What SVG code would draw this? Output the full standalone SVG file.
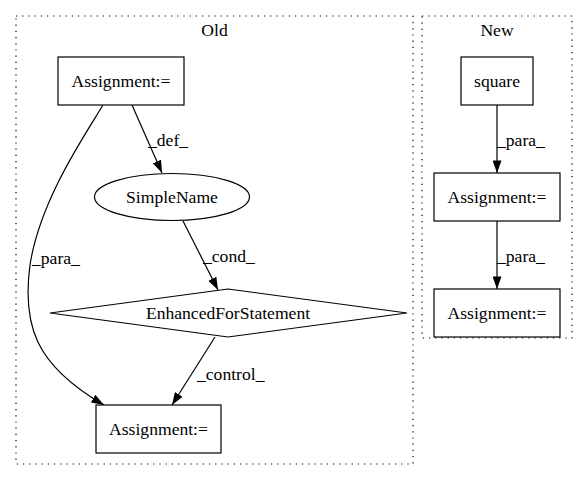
<svg xmlns="http://www.w3.org/2000/svg" width="587" height="480" viewBox="0 0 587 480" font-family="'Liberation Serif', 'Times New Roman', serif">
<defs>
<marker id="arr" viewBox="0 0 12.6 9" refX="12.6" refY="4.5" markerWidth="12.6" markerHeight="9" markerUnits="userSpaceOnUse" orient="auto">
<path d="M0,0 L12.6,4.5 L0,9 Z" fill="#000"/>
</marker>
</defs>
<style>
text{font-family:'Liberation Serif','Times New Roman',serif;font-size:17.6px;fill:#000}
.node{fill:#fff;stroke:#000;stroke-width:1.2}
.cluster{fill:none;stroke:#000;stroke-width:1.2;stroke-dasharray:1.2,5}
.edge{fill:none;stroke:#000;stroke-width:1.2;marker-end:url(#arr)}
.c{text-anchor:middle}
</style>
<rect width="587" height="480" fill="#fff"/>
<g id="cluster_old">
<rect class="cluster" x="16" y="16" width="397" height="448"/>
<text class="c" x="214.5" y="36">Old</text>
</g>
<g id="cluster_new">
<rect class="cluster" x="422" y="16" width="150" height="322"/>
<text class="c" x="497" y="36">New</text>
</g>
<g id="edges">
<path class="edge" d="M132,105 L162,173"/>
<text x="148" y="146">_def_</text>
<path class="edge" d="M183,221 L218,290"/>
<text x="203" y="262">_cond_</text>
<path class="edge" d="M215,337 L172,405"/>
<text x="197" y="380">_control_</text>
<path class="edge" d="M103,105 C85,135 40,200 30,265 C22,325 35,365 104,405"/>
<text x="32" y="264">_para_</text>
<path class="edge" d="M497,105 L497,173"/>
<text x="497" y="146">_para_</text>
<path class="edge" d="M497,221 L497,289"/>
<text x="497" y="262">_para_</text>
</g>
<g id="old_assign_top">
<rect class="node" x="58" y="57" width="126" height="48"/>
<text class="c" x="121" y="87">Assignment:=</text>
</g>
<g id="old_simplename">
<ellipse class="node" cx="172" cy="197" rx="77.5" ry="23.5"/>
<text class="c" x="172" y="203">SimpleName</text>
</g>
<g id="old_enhancedfor">
<polygon class="node" points="228,289 407,313 228,337 50,313"/>
<text class="c" x="228" y="319">EnhancedForStatement</text>
</g>
<g id="old_assign_bottom">
<rect class="node" x="96" y="405" width="125" height="48"/>
<text class="c" x="158.5" y="435">Assignment:=</text>
</g>
<g id="new_square">
<rect class="node" x="461" y="57" width="72" height="48"/>
<text class="c" x="497" y="87">square</text>
</g>
<g id="new_assign_1">
<rect class="node" x="434" y="173" width="126" height="48"/>
<text class="c" x="497" y="203">Assignment:=</text>
</g>
<g id="new_assign_2">
<rect class="node" x="434" y="289" width="126" height="48"/>
<text class="c" x="497" y="319">Assignment:=</text>
</g>
</svg>
